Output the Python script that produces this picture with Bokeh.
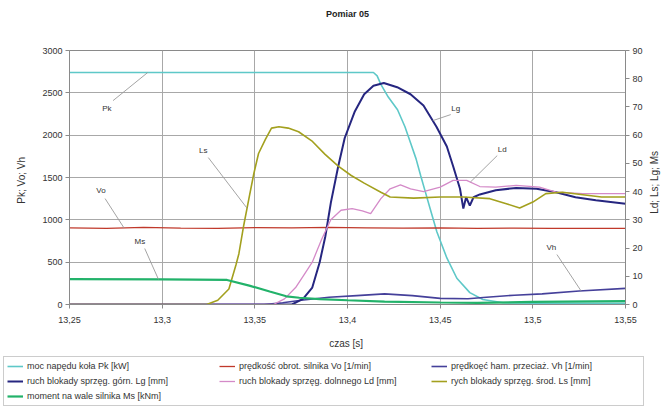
import numpy as np
from bokeh.plotting import figure
from bokeh.layouts import column, row
from bokeh.models import (Range1d, LinearAxis, FixedTicker, CustomJSTickFormatter,
                          Legend, LegendItem, Title)
from bokeh.core.properties import value
from bokeh.embed import file_html
from bokeh.resources import INLINE

FONT = "Liberation Sans"

# ---------------- data ----------------
x_ticks = [13.25, 13.30, 13.35, 13.40, 13.45, 13.50, 13.55]
left_ticks = [0, 500, 1000, 1500, 2000, 2500, 3000]
right_ticks = [0, 10, 20, 30, 40, 50, 60, 70, 80, 90]

# moc napedu kola Pk [kW]  (left axis)
t_pk = [13.25, 13.30, 13.35, 13.40, 13.414, 13.416, 13.418, 13.422, 13.427, 13.431,
        13.434, 13.437, 13.4395, 13.442, 13.4446, 13.4482, 13.4536, 13.459, 13.466,
        13.473, 13.484, 13.50, 13.55]
pk = [2740, 2740, 2740, 2740, 2740, 2700, 2600, 2450, 2300, 2100,
      1910, 1720, 1520, 1330, 1130, 860, 550, 310, 140,
      60, 20, 15, 15]

# predkosc obrot. silnika Vo [1/min]  (left axis)
t_vo = [13.25, 13.27, 13.29, 13.31, 13.33, 13.35, 13.37, 13.39, 13.41, 13.43,
        13.45, 13.47, 13.49, 13.51, 13.53, 13.55]
vo = [905, 900, 910, 902, 898, 908, 905, 910, 906, 902,
      905, 900, 903, 898, 900, 900]

# predkosc ham. przeciaz. Vh [1/min]  (left axis)
t_vh = [13.25, 13.355, 13.365, 13.375, 13.39, 13.405, 13.42, 13.435, 13.45, 13.465,
        13.475, 13.49, 13.505, 13.525, 13.55]
vh = [0, 0, 20, 50, 85, 105, 125, 105, 72, 68,
      85, 110, 125, 160, 190]

# ruch blokady sprzeg. gorn. Lg [mm]  (right axis)
t_lg = [13.25, 13.37, 13.376, 13.381, 13.385, 13.388, 13.391, 13.395, 13.3985, 13.404,
        13.409, 13.414, 13.4196, 13.4268, 13.434, 13.441, 13.448, 13.4536, 13.457,
        13.4607, 13.4625, 13.464, 13.466, 13.468, 13.4714, 13.48, 13.491, 13.502,
        13.5125, 13.523, 13.534, 13.55]
lg = [0, 0, 2, 6, 15, 24, 36, 49, 59, 68.5,
      74.5, 77.5, 78.5, 77, 74.5, 70.5, 63, 56, 49,
      41, 34, 38, 35, 38, 39, 40.5, 41.3, 41,
      39.8, 38, 36.9, 35.7]

# ruch blokady sprzeg. dolnnego Ld [mm]  (right axis)
t_ld = [13.25, 13.36, 13.366, 13.372, 13.376, 13.381, 13.386, 13.391, 13.3965, 13.4025,
        13.408, 13.4125, 13.418, 13.423, 13.4286, 13.434, 13.441, 13.45, 13.457,
        13.4643, 13.4714, 13.48, 13.491, 13.5036, 13.5125, 13.527, 13.55]
ld = [0, 0, 2, 6, 10, 15, 23, 30, 33.4, 34,
      33.2, 32.2, 37.5, 41, 42.4, 41, 40, 41.6, 44,
      44, 41.8, 41.6, 42.2, 41.6, 39.8, 39.3, 39.3]

# rych blokady sprzeg. srod. Ls [mm]  (right axis)
t_ls = [13.25, 13.324, 13.33, 13.336, 13.3398, 13.3414, 13.344, 13.3468, 13.3495, 13.352,
        13.3557, 13.359, 13.363, 13.368, 13.3736, 13.3807, 13.3879, 13.395, 13.402,
        13.409, 13.418, 13.423, 13.4357, 13.45, 13.4625, 13.4768, 13.4857, 13.4929,
        13.50, 13.507, 13.516, 13.527, 13.537, 13.55]
ls = [0, 0, 1.5, 5.5, 14, 18, 28, 37.5, 46.5, 53.5,
      58.5, 62.5, 63, 62.5, 61.2, 58, 53.2, 49, 45.7,
      43, 39.8, 38.1, 37.7, 38.1, 38.1, 37.5, 35.7, 34.2,
      36.3, 39.3, 39.8, 38.9, 38.1, 38.1]

# moment na wale silnika Ms [kNm]  (right axis)
t_ms = [13.25, 13.30, 13.335, 13.347, 13.358, 13.367, 13.374, 13.385, 13.40, 13.42,
        13.45, 13.47, 13.50, 13.55]
ms = [9.0, 8.9, 8.7, 6.7, 4.6, 2.9, 2.4, 1.9, 1.5, 1.0,
      0.7, 0.6, 0.9, 1.2]

legend_labels = [
    "moc napędu koła Pk [kW]",
    "prędkość obrot. silnika Vo [1/min]",
    "prędkoęć ham. przeciaż. Vh [1/min]",
    "ruch blokady sprzęg. górn. Lg [mm]",
    "ruch blokady sprzęg. dolnnego Ld [mm]",
    "rych blokady sprzęg. środ. Ls [mm]",
    "moment na wale silnika Ms [kNm]",
]

# callout labels: name, label position (time, left-axis units), leader start, anchor time
callout_names = ["Pk", "Vo", "Ms", "Ls", "Lg", "Ld", "Vh"]
callout_tx = [13.2702, 13.2670, 13.2880, 13.3222, 13.4584, 13.4835, 13.5100]
callout_ty = [2314, 1346, 744, 1818, 2314, 1830, 673]
leader_sx = [13.2735, 13.2692, 13.2906, 13.3249, 13.4557, 13.4808, 13.5130]
leader_sy = [2408, 1251, 661, 1735, 2243, 1759, 590]
anchor_t = [13.2922, 13.2794, 13.2980, 13.3458, 13.4460, 13.4663, 13.5260]

colors = ["#5ec8c8", "#c0392b", "#45409a", "#262680", "#d48ac8", "#a3a01e", "#22b26a"]
widths = [1.6, 1.3, 1.6, 2.0, 1.3, 1.6, 2.2]

# ---------------- main figure ----------------
RSCALE = 3000 / 90.0
TOP_H = 352

p = figure(width=645, height=TOP_H, output_backend="svg", toolbar_location=None,
           x_range=Range1d(13.25, 13.55), y_range=Range1d(0, 3000),
           min_border_left=69, min_border_right=16, min_border_top=50,
           min_border_bottom=48)
p.extra_y_ranges = {"right": Range1d(0, 90)}

p.title.text = "Pomiar 05"
p.title.align = "center"
p.title.text_font = FONT
p.title.text_font_size = "9px"
p.title.text_font_style = "bold"
p.title.text_color = "#222222"
p.title.standoff = 0
# spacer between the title and the frame
p.add_layout(Title(text=" ", text_font_size="27px", standoff=0), "above")

p.outline_line_color = "#8a8a8a"
p.background_fill_color = "white"
p.border_fill_color = "white"

for g in (p.xgrid, p.ygrid):
    g.grid_line_color = "#a8a8a8"
    g.grid_line_width = 1
p.xgrid.ticker = FixedTicker(ticks=x_ticks)
p.ygrid.ticker = FixedTicker(ticks=left_ticks)

xa = p.xaxis[0]
xa.ticker = FixedTicker(ticks=x_ticks)
xa.formatter = CustomJSTickFormatter(
    code="return (Math.round(tick*100)/100).toString().replace('.', ',');")
xa.axis_label = "czas  [s]"

ya = p.yaxis[0]
ya.ticker = FixedTicker(ticks=left_ticks)
ya.axis_label = "Pk;  Vo;  Vh"

ra = LinearAxis(y_range_name="right", ticker=FixedTicker(ticks=right_ticks))
p.add_layout(ra, "right")

for ax in (xa, ya, ra):
    ax.axis_line_color = "#8a8a8a"
    ax.major_tick_line_color = "#8a8a8a"
    ax.major_tick_out = 4
    ax.major_tick_in = 0
    ax.minor_tick_line_color = None
    ax.major_label_text_font = FONT
    ax.major_label_text_font_size = "9px"
    ax.major_label_text_color = "#333333"
    ax.axis_label_text_font = FONT
    ax.axis_label_text_font_size = "10px"
    ax.axis_label_text_font_style = "normal"
    ax.axis_label_text_color = "#333333"
    ax.major_label_standoff = 3
xa.major_label_standoff = 8
xa.axis_label_standoff = 12
ya.axis_label_standoff = 12

r_pk = p.line(t_pk, pk, line_color=colors[0], line_width=widths[0])
r_vo = p.line(t_vo, vo, line_color=colors[1], line_width=widths[1])
r_vh = p.line(t_vh, vh, line_color=colors[2], line_width=widths[2])
r_lg = p.line(t_lg, lg, line_color=colors[3], line_width=widths[3], y_range_name="right")
r_ld = p.line(t_ld, ld, line_color=colors[4], line_width=widths[4], y_range_name="right")
r_ls = p.line(t_ls, ls, line_color=colors[5], line_width=widths[5], y_range_name="right")
r_ms = p.line(t_ms, ms, line_color=colors[6], line_width=widths[6], y_range_name="right")

# leader lines from labels to curves
series_left = {
    "Pk": (t_pk, pk, 1.0), "Vo": (t_vo, vo, 1.0), "Vh": (t_vh, vh, 1.0),
    "Lg": (t_lg, lg, RSCALE), "Ld": (t_ld, ld, RSCALE), "Ls": (t_ls, ls, RSCALE),
    "Ms": (t_ms, ms, RSCALE),
}
ax_y = []
for name, at in zip(callout_names, anchor_t):
    tt, vv, sc = series_left[name]
    ax_y.append(float(np.interp(at, tt, vv)) * sc)
p.segment(x0=leader_sx, y0=leader_sy, x1=anchor_t, y1=ax_y,
          line_color="#9a9a9a", line_width=0.9)
p.text(x=callout_tx, y=callout_ty, text=callout_names, text_font=value(FONT),
       text_font_size="8px", text_color="#333333", text_align="center",
       text_baseline="middle")

# ---------------- right axis title (reads bottom to top) ----------------
pr = figure(width=20, height=TOP_H, output_backend="svg", toolbar_location=None,
            x_range=Range1d(0, 20), y_range=Range1d(0, TOP_H),
            min_border=0, outline_line_color=None)
pr.axis.visible = False
pr.grid.visible = False
pr.text(x=[9], y=[TOP_H - 177], text=["Ld;  Ls;  Lg;  Ms"], angle=np.pi / 2,
        text_font=value(FONT), text_font_size="10px", text_color="#333333",
        text_align="center", text_baseline="middle")

# ---------------- legend strip ----------------
pl = figure(width=665, height=55, output_backend="svg", toolbar_location=None,
            x_range=Range1d(0, 1), y_range=Range1d(0, 1),
            min_border=0, outline_line_color=None)
pl.axis.visible = False
pl.grid.visible = False
items = []
for lab, c, w in zip(legend_labels, colors, widths):
    # proxy renderer kept outside the visible range; only its legend swatch shows
    r = pl.line([5, 6], [5, 6], line_color=c, line_width=w)
    items.append(LegendItem(label=lab, renderers=[r]))
legend = Legend(items=items, location=(3, 1), orientation="horizontal", ncols=3,
                label_text_font=FONT, label_text_font_size="9px",
                label_text_color="#333333", glyph_width=16, glyph_height=12,
                label_height=12, label_width=189, label_standoff=4, spacing=3,
                padding=3, margin=0, border_line_color="#9a9a9a",
                background_fill_color="white", background_fill_alpha=1.0)
pl.add_layout(legend, "center")

layout = column(row(p, pr, spacing=0), pl, spacing=0)
open("out.html", "w").write(file_html(layout, INLINE))
